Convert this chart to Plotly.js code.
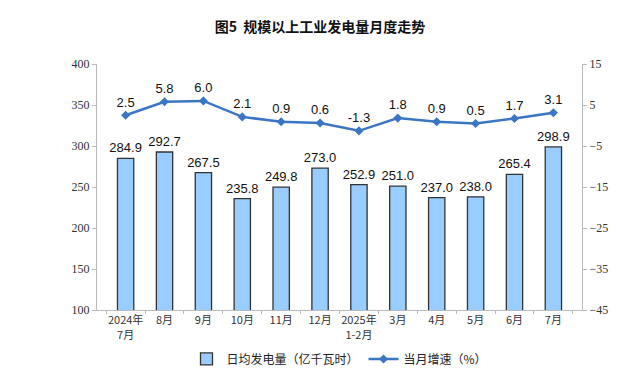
<!DOCTYPE html>
<html><head><meta charset="utf-8">
<script src="https://cdn.plot.ly/plotly-3.0.1.min.js"></script>
<style>body{margin:0;background:#fff}#c{width:640px;height:389px}</style>
</head><body><div id="c"></div>
<script>
var categories = ["2024年<br>7月","8月","9月","10月","11月","12月","2025年<br>1-2月","3月","4月","5月","6月","7月"];
var dailyOutput = [284.9,292.7,267.5,235.8,249.8,273.0,252.9,251.0,237.0,238.0,265.4,298.9];
var growth = [2.5,5.8,6.0,2.1,0.9,0.6,-1.3,1.8,0.9,0.5,1.7,3.1];
var leftTicks = [100,150,200,250,300,350,400];
var rightTicks = [-45,-35,-25,-15,-5,5,15];

var bars = {
  type:'bar', x:categories, y:dailyOutput, name:'日均发电量（亿千瓦时）',
  marker:{color:'#99CCFF', line:{color:'#333333', width:1.3}},
  text:dailyOutput.map(function(v){return v.toFixed(1);}), textposition:'outside',
  constraintext:'none',
  textfont:{family:'Arial, Liberation Sans, sans-serif', size:13, color:'#111'},
  cliponaxis:false
};
var line = {
  type:'scatter', mode:'lines+markers+text', x:categories, y:growth, yaxis:'y2',
  name:'当月增速（%）',
  line:{color:'#3A76C4', width:2.5},
  marker:{symbol:'diamond', size:7, color:'#3A76C4'},
  text:growth.map(function(v){return v.toFixed(1);}), textposition:'top center',
  textfont:{family:'Arial, Liberation Sans, sans-serif', size:13, color:'#111'},
  cliponaxis:false
};
var layout = {
  width:640, height:389,
  margin:{l:97, r:58, t:64, b:79},
  paper_bgcolor:'#fff', plot_bgcolor:'#fff',
  title:{text:'<b>图5  规模以上工业发电量月度走势</b>', x:0.5, xanchor:'center', y:0.93, yanchor:'middle',
    font:{family:'Noto Sans CJK SC, sans-serif', size:14, color:'#111'}},
  bargap:0.58,
  showlegend:true,
  legend:{orientation:'h', x:0.5, xanchor:'center', y:-0.14, yanchor:'top',
    font:{family:'Noto Sans CJK SC, sans-serif', size:12, color:'#222'}, traceorder:'normal'},
  xaxis:{showline:true, linecolor:'#BBBBBB', linewidth:1, ticks:'outside', tickson:'boundaries',
    ticklen:3, tickcolor:'#BBBBBB', showgrid:false, tickangle:0,
    tickfont:{family:'Noto Sans CJK SC, sans-serif', size:11, color:'#333'}, fixedrange:true},
  yaxis:{range:[100,400], tickvals:leftTicks, showgrid:false, zeroline:false,
    showline:true, linecolor:'#BBBBBB', ticks:'outside', ticklen:4, tickcolor:'#BBBBBB',
    tickfont:{family:'Liberation Serif, Times New Roman, serif', size:12, color:'#333'}},
  yaxis2:{range:[-45,15], tickvals:rightTicks, overlaying:'y', side:'right', showgrid:false, zeroline:false,
    showline:true, linecolor:'#BBBBBB', ticks:'outside', ticklen:4, tickcolor:'#BBBBBB',
    tickfont:{family:'Liberation Serif, Times New Roman, serif', size:12, color:'#333'}}
};
Plotly.newPlot('c',[bars,line],layout,{displayModeBar:false, staticPlot:true});
</script></body></html>
